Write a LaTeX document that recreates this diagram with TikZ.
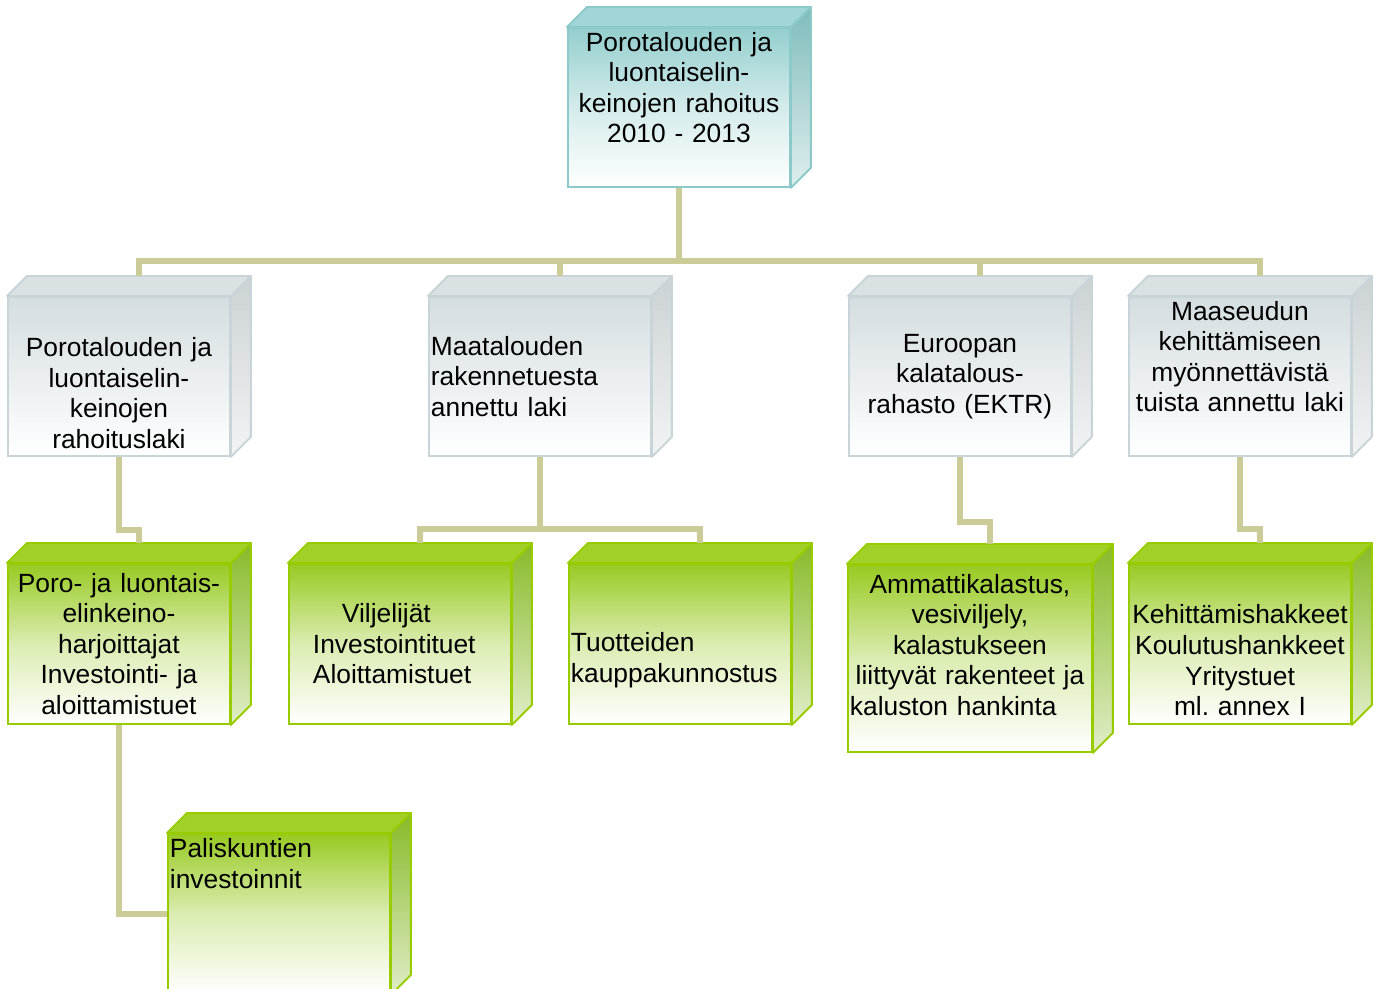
\documentclass[tikz,border=0pt]{standalone}
\usepackage{fontspec}
\setmainfont{Liberation Sans}
\usepackage{tikz}
\hyphenpenalty=10000
\exhyphenpenalty=10000

\definecolor{headfront}{RGB}{148,206,206}
\definecolor{headedge}{RGB}{140,202,202}
\definecolor{headface}{RGB}{162,213,213}
\definecolor{headside}{RGB}{128,188,188}
\definecolor{lawfront}{RGB}{212,221,224}
\definecolor{lawedge}{RGB}{200,212,215}
\definecolor{lawface}{RGB}{218,225,227}
\definecolor{lawside}{RGB}{203,210,212}
\definecolor{aidfront}{RGB}{152,202,34}
\definecolor{aidedge}{RGB}{153,204,0}
\definecolor{aidface}{RGB}{162,208,40}
\definecolor{aidside}{RGB}{136,186,40}
\definecolor{linkcol}{RGB}{204,204,153}

% the two visible sides of a box: node, colour family
\newcommand{\boxsides}[2]{%
  \draw[draw=#2edge, fill=#2face, line width=1.1pt, line join=round]
    (#1.north west) -- ++(20,-20) -- ([shift={(20,-20)}]#1.north east) -- (#1.north east) -- cycle;
  \draw[draw=#2edge, top color=#2side, bottom color=#2side!25!white, line width=1.1pt, line join=round]
    (#1.north east) -- ++(20,-20) -- ([shift={(20,-20)}]#1.south east) -- (#1.south east) -- cycle;
}

\begin{document}
\begin{tikzpicture}
		[x=0.02cm, y=-0.02cm,
		box/.style={anchor=north west, minimum width=4.44cm, minimum height=3.18cm,
			text width=4.36cm, inner sep=0.04cm, line width=1.1pt, align=center,
			font=\fontsize{15}{17.4}\selectfont},
		headbox/.style={box, draw=headedge, top color=headfront, bottom color=white, middle color=headfront!40!white},
		lawbox/.style={box, draw=lawedge, top color=lawfront, bottom color=white, middle color=lawfront!50!white},
		aidbox/.style={box, draw=aidedge, top color=aidfront, bottom color=white, middle color=aidfront!35!white},
		link/.style={draw=linkcol, line width=3.4pt}]
		\useasboundingbox (0,0) rectangle (1379,989);
		% level 1
		\node[headbox] (top) at (567,27) {Porotalouden ja\\ luontaiselin-\\ keinojen rahoitus\\ 2010 - 2013\\ \strut};
		\boxsides{top}{head}
		% level 2
		\node[lawbox] (g1) at (7,296) {\strut\\ Porotalouden ja\\ luontaiselin-\\ keinojen\\ rahoituslaki};
		\boxsides{g1}{law}
		\node[lawbox, align=left] (g2) at (428,296) {Maatalouden\\ rakennetuesta\\ annettu laki};
		\boxsides{g2}{law}
		\node[lawbox] (g3) at (848,296) {Euroopan\\ kalatalous-\\ rahasto (EKTR)};
		\boxsides{g3}{law}
		\node[lawbox] (g4) at (1128,296) {Maaseudun\\ kehittämiseen\\ myönnettävistä\\ tuista annettu laki\\ \strut};
		\boxsides{g4}{law}
		% level 3
		\node[aidbox, minimum height=3.2cm] (p1) at (7,563) {Poro- ja luontais-\\ elinkeino-\\ harjoittajat\\ Investointi- ja\\ aloittamistuet};
		\boxsides{p1}{aid}
		\node[aidbox, minimum height=3.2cm, align=left] (vil) at (288,563)
			{\hspace*{1.02cm}Viljelijät\\ \hspace*{0.44cm}Investointituet\\ \hspace*{0.44cm}Aloittamistuet};
		\boxsides{vil}{aid}
		\node[aidbox, minimum height=3.2cm, align=left] (tuo) at (568,563) {\strut\\ Tuotteiden\\ kauppakunnostus};
		\boxsides{tuo}{aid}
		\node[aidbox, minimum width=4.88cm, minimum height=3.74cm, text width=4.8cm] (amm) at (847,564)
			{Ammattikalastus,\\ vesiviljely,\\ kalastukseen\\ liittyvät rakenteet ja\\ \makebox[4.8cm][l]{kaluston hankinta}\\[-0.25cm] \strut};
		\boxsides{amm}{aid}
		\node[aidbox, minimum height=3.2cm] (keh) at (1128,563) {\strut\\ Kehittämishakkeet\\ Koulutushankkeet\\ Yritystuet\\ ml.\ annex I};
		\boxsides{keh}{aid}
		% level 4
		\node[aidbox, minimum height=3.2cm, align=left] (pal) at (167,833) {Paliskuntien\\ investoinnit\\ \strut\\ \strut\\ \strut};
		\boxsides{pal}{aid}
		% connectors
		\draw[link] (top.south) -- ++(0,73) -| ([shift={(20,-20)}]g1.north);
		\draw[link] (top.south) -- ++(0,73) -| ([shift={(20,-20)}]g2.north);
		\draw[link] (top.south) -- ++(0,73) -| ([shift={(20,-20)}]g3.north);
		\draw[link] (top.south) -- ++(0,73) -| ([shift={(20,-20)}]g4.north);
		\draw[link] (g1.south) -- ++(0,73) -| ([shift={(20,-20)}]p1.north);
		\draw[link] (g2.south) -- ++(0,72) -| ([shift={(20,-20)}]vil.north);
		\draw[link] (g2.south) -- ++(0,72) -| ([shift={(20,-20)}]tuo.north);
		\draw[link] (g3.south) -- ++(0,65) -| ([shift={(20,-20)}]amm.north);
		\draw[link] (g4.south) -- ++(0,72) -| ([shift={(20,-20)}]keh.north);
		\draw[link] (p1.south) |- (pal.west);
	\end{tikzpicture}
\end{document}
